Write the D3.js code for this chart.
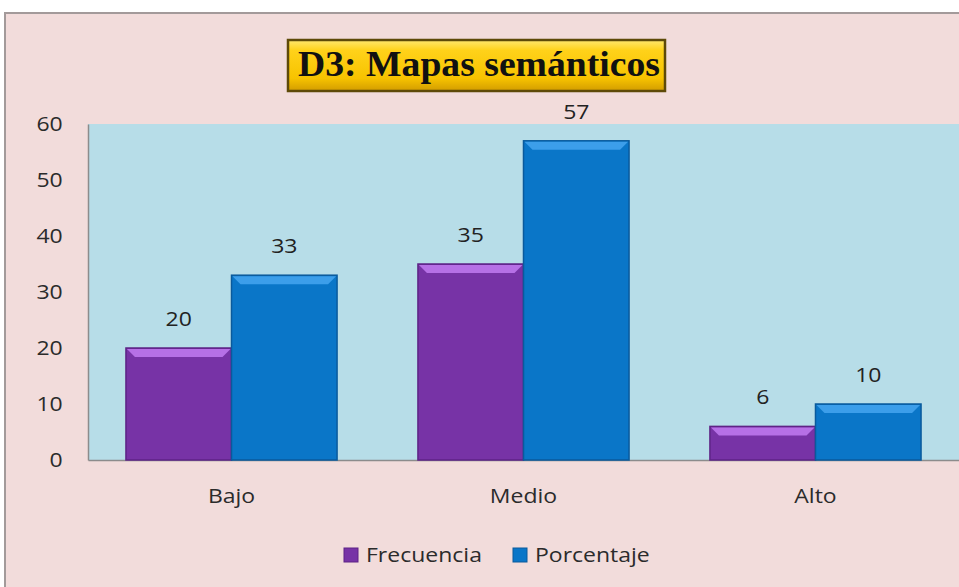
<!DOCTYPE html>
<html>
<head>
<meta charset="utf-8">
<script src="https://cdn.jsdelivr.net/npm/d3@7"></script>
<style>
  body { margin: 0; background: #fff; }
  svg { display: block; }
</style>
</head>
<body>
<div id="chart"></div>
<script>
var categories = ["Bajo", "Medio", "Alto"];
var seriesNames = ["Frecuencia", "Porcentaje"];
var frecuencia = [20, 35, 6];
var porcentaje = [33, 57, 10];
var yTicks = [0, 10, 20, 30, 40, 50, 60];

var width = 959, height = 587;
var font = "Open Sans, sans-serif";
var stretch = "scale(1.15,1)"; // the picture is a bit wider than tall

var svg = d3.select("#chart").append("svg")
    .attr("width", width)
    .attr("height", height);

var defs = svg.append("defs");

// gold title gradient
var gold = defs.append("linearGradient").attr("id", "gold")
    .attr("x1", 0).attr("y1", 0).attr("x2", 0).attr("y2", 1);
gold.append("stop").attr("offset", "0%").attr("stop-color", "#ffe870");
gold.append("stop").attr("offset", "20%").attr("stop-color", "#ffd21a");
gold.append("stop").attr("offset", "75%").attr("stop-color", "#f7c300");
gold.append("stop").attr("offset", "100%").attr("stop-color", "#d29c00");

var colors = {
  Frecuencia: {body: "#7733a6", top: "#b670e6", side: "#5e2386"},
  Porcentaje: {body: "#0a76c8", top: "#3c9eea", side: "#0a5a9c"}
};

// chart area background
svg.append("rect")
    .attr("x", 5).attr("y", 13)
    .attr("width", width).attr("height", height)
    .attr("fill", "#f2dcdb")
    .attr("stroke", "#a39a9a").attr("stroke-width", 2);

var margin = {left: 88, top: 124, bottom: 460};
var plotRight = 959;

var x0 = d3.scaleBand()
    .domain(categories)
    .range([margin.left, plotRight])
    .paddingInner(0.277)
    .paddingOuter(0.13);

var x1 = d3.scaleBand()
    .domain(seriesNames)
    .range([0, x0.bandwidth()]);

var y = d3.scaleLinear()
    .domain([0, 60])
    .range([margin.bottom, margin.top]);

// plot area
svg.append("rect")
    .attr("x", margin.left).attr("y", margin.top)
    .attr("width", plotRight - margin.left)
    .attr("height", margin.bottom - margin.top)
    .attr("fill", "#b7dde8");

// y axis
var yAxis = svg.append("g")
    .attr("transform", "translate(" + margin.left + ",0)")
    .call(d3.axisLeft(y).tickValues(yTicks).tickSize(0).tickPadding(22));
yAxis.select(".domain").attr("stroke", "#8c8c8c").attr("stroke-width", 1.5);
yAxis.selectAll("text")
    .attr("font-family", font)
    .attr("font-size", 20)
    .attr("font-weight", 500)
    .attr("fill", "#2b2b2b")
    .attr("transform", stretch);

// x axis
var xAxis = svg.append("g")
    .attr("transform", "translate(0," + margin.bottom + ")")
    .call(d3.axisBottom(x0).tickSize(0).tickPadding(29));
xAxis.select(".domain").attr("stroke", "#8c8c8c").attr("stroke-width", 1.5);
xAxis.selectAll("text")
    .attr("font-family", font)
    .attr("font-size", 20)
    .attr("font-weight", 500)
    .attr("fill", "#2b2b2b")
    .attr("transform", stretch);

// bars
var rows = categories.map(function(c, i) {
  return {cat: c, values: [
    {name: "Frecuencia", value: frecuencia[i]},
    {name: "Porcentaje", value: porcentaje[i]}
  ]};
});

var groups = svg.append("g").selectAll("g")
    .data(rows)
    .enter().append("g")
    .attr("transform", function(d) { return "translate(" + x0(d.cat) + ",0)"; });

var bars = groups.selectAll(".bar")
    .data(function(d) { return d.values; })
    .enter().append("g")
    .attr("class", "bar");

bars.append("rect")
    .attr("x", function(d) { return x1(d.name); })
    .attr("y", function(d) { return y(d.value); })
    .attr("width", x1.bandwidth())
    .attr("height", function(d) { return y(0) - y(d.value); })
    .attr("fill", function(d) { return colors[d.name].body; })
    .attr("stroke", function(d) { return colors[d.name].side; })
    .attr("stroke-width", 1.5);

// bevel on top
bars.append("path")
    .attr("d", function(d) {
      var xa = x1(d.name) + 1, xb = xa + x1.bandwidth() - 2, yt = y(d.value) + 1, b = 8;
      return "M" + xa + "," + yt + "L" + xb + "," + yt +
        "L" + (xb - b) + "," + (yt + b) + "L" + (xa + b) + "," + (yt + b) + "Z";
    })
    .attr("fill", function(d) { return colors[d.name].top; });

// value labels
bars.append("text")
    .attr("transform", function(d) {
      return "translate(" + (x1(d.name) + x1.bandwidth() / 2) + "," + (y(d.value) - 22) + ") " + stretch;
    })
    .attr("text-anchor", "middle")
    .attr("font-family", font)
    .attr("font-size", 20)
    .attr("font-weight", 500)
    .attr("fill", "#222")
    .text(function(d) { return d.value; });

// title
svg.append("rect")
    .attr("x", 288).attr("y", 40)
    .attr("width", 377).attr("height", 51)
    .attr("fill", "url(#gold)")
    .attr("stroke", "#5e4a08").attr("stroke-width", 2.5);
svg.append("text")
    .attr("x", 298).attr("y", 76)
    .attr("textLength", 362)
    .attr("lengthAdjust", "spacingAndGlyphs")
    .attr("font-family", "Liberation Serif, serif")
    .attr("font-weight", "bold")
    .attr("font-size", 35)
    .attr("fill", "#111")
    .text("D3: Mapas semánticos");

// legend
var legend = svg.append("g").selectAll("g")
    .data(seriesNames)
    .enter().append("g")
    .attr("transform", function(d, i) { return "translate(" + (344 + i * 169) + ",548)"; });
legend.append("rect")
    .attr("width", 14).attr("height", 14)
    .attr("fill", function(d) { return colors[d].body; })
    .attr("stroke", function(d) { return colors[d].side; });
legend.append("text")
    .attr("transform", "translate(22,14) " + stretch)
    .attr("font-family", font)
    .attr("font-size", 20)
    .attr("font-weight", 500)
    .attr("fill", "#2b2b2b")
    .text(function(d) { return d; });
</script>
</body>
</html>
